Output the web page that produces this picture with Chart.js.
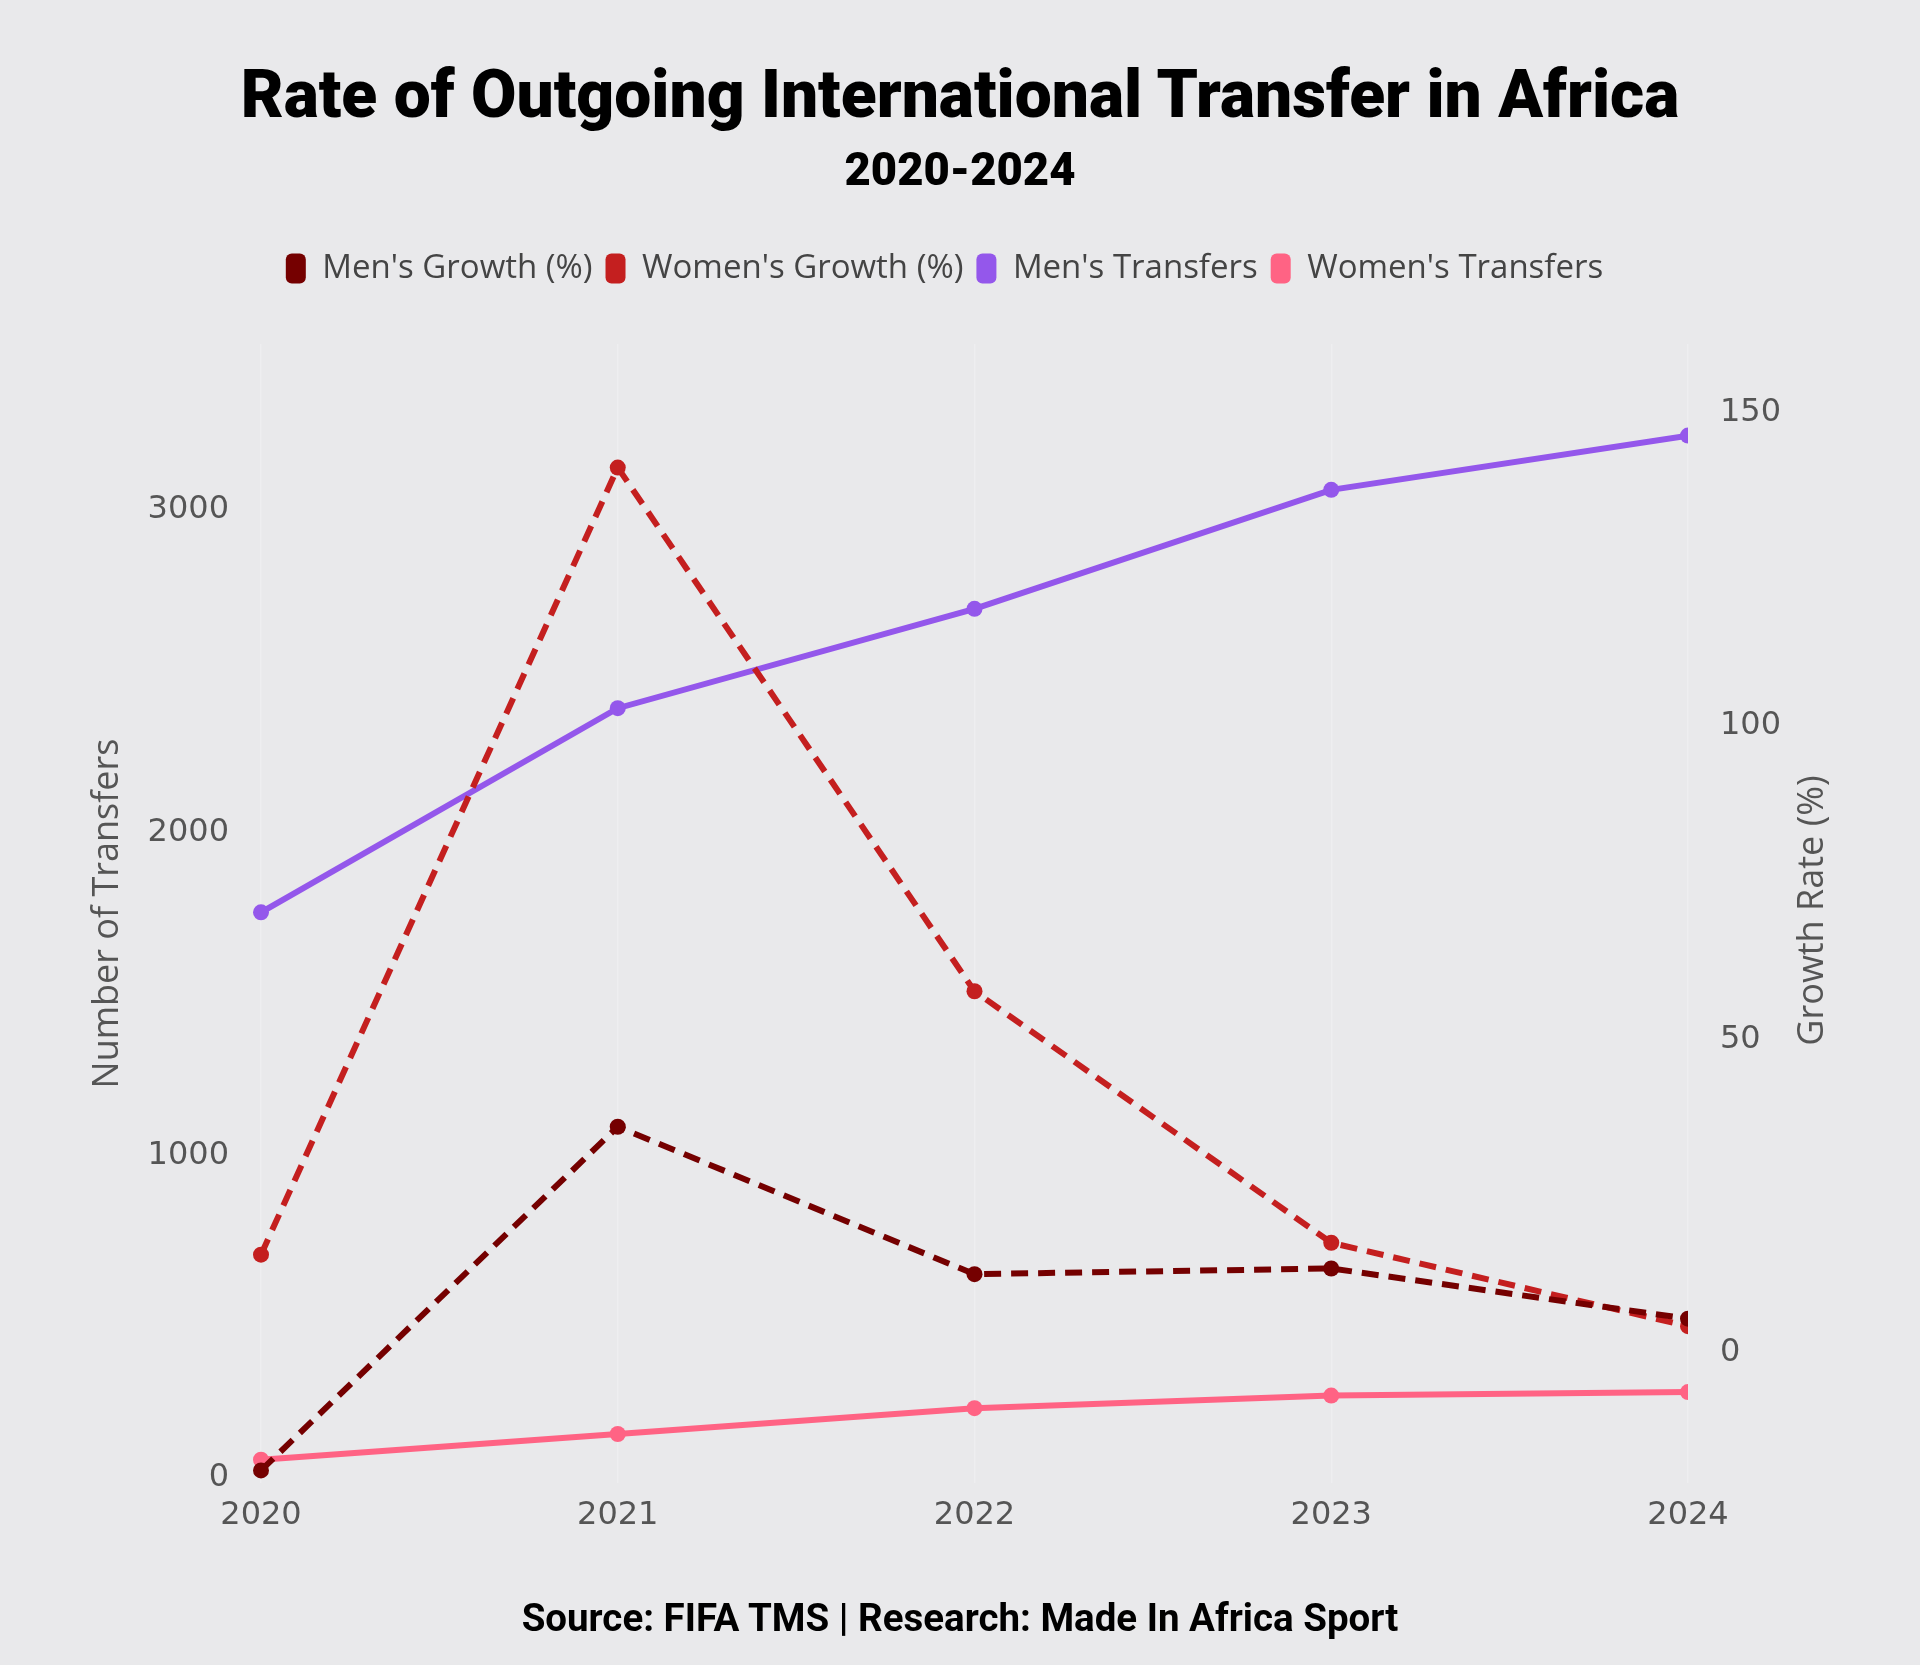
<!DOCTYPE html>
<html>
<head>
<meta charset="utf-8">
<script src="https://cdn.jsdelivr.net/npm/chart.js@4/dist/chart.umd.min.js"></script>
<style>
html,body{margin:0;padding:0;background:#e9e9eb;}
#wrap{position:relative;width:1920px;height:1665px;background:#e9e9eb;overflow:hidden;}
#chart{position:absolute;left:0;top:0;}
.txt{position:absolute;left:0;width:1920px;text-align:center;color:#000;white-space:nowrap;margin:0;}
</style>
</head>
<body>
<div id="wrap">
<canvas id="chart" width="1920" height="1665"></canvas>
<div id="title" class="txt">Rate of Outgoing International Transfer in Africa</div>
<div id="subtitle" class="txt">2020-2024</div>
<div id="source" class="txt">Source: FIFA TMS | Research: Made In Africa Sport</div>
</div>
<script>
// ---- Data ----
const years = ['2020', '2021', '2022', '2023', '2024'];
const mensGrowth = [-18.7, 36.1, 12.6, 13.5, 5.5];
const womensGrowth = [15.7, 141.2, 57.7, 17.6, 4.3];
const mensTransfers = [1753, 2386, 2694, 3063, 3231];
const womensTransfers = [56, 136, 216, 255, 266];
const transferTicks = [0, 1000, 2000, 3000];
const growthTicks = [0, 50, 100, 150];
const seriesNames = ["Men's Growth (%)", "Women's Growth (%)", "Men's Transfers", "Women's Transfers"];
const leftAxisTitle = 'Number of Transfers';
const rightAxisTitle = 'Growth Rate (%)';

// ---- Styling helpers ----
const BG = '#e9e9eb';
const measureCtx = document.createElement('canvas').getContext('2d');
function fitSize(text, family, weight, target) {
  measureCtx.font = `${weight} 100px ${family}`;
  return 100 * target / measureCtx.measureText(text).width;
}
function placeText(id, family, weight, targetW, centerY) {
  const el = document.getElementById(id);
  const size = fitSize(el.textContent, family, weight, targetW);
  measureCtx.font = `${weight} ${size}px ${family}`;
  const m = measureCtx.measureText(el.textContent);
  const fa = m.fontBoundingBoxAscent, fd = m.fontBoundingBoxDescent;
  const capH = measureCtx.measureText('H').actualBoundingBoxAscent;
  const baseline = (size - (fa + fd)) / 2 + fa;
  el.style.font = `${weight} ${size}px ${family}`;
  el.style.lineHeight = size + 'px';
  el.style.top = (centerY - (baseline - capH / 2)) + 'px';
}
const TITLE_FAMILY = 'Roboto, "Noto Sans", sans-serif';
placeText('title', TITLE_FAMILY, 900, 1441, 93);
placeText('subtitle', TITLE_FAMILY, 900, 231, 169);
placeText('source', TITLE_FAMILY, 700, 878, 1618);

const TICK_FAMILY = '"DejaVu Sans", sans-serif';
const LABEL_FAMILY = '"Open Sans", sans-serif';
const tickSize = 32;
const axisTitleSize = Math.round(fitSize(leftAxisTitle, LABEL_FAMILY, 400, 350));
const legendSize = Math.round(fitSize(seriesNames[0], LABEL_FAMILY, 400, 272));

// target geometry
const AREA_LEFT = 261, AREA_RIGHT = 1688, AREA_TOP = 344, AREA_BOTTOM = 1483;
const PAD_RIGHT = 31;
const LEGEND_CY = 268;

let legendExtra = 0;
const legendFitPlugin = {
  id: 'legendFit',
  beforeInit(chart) {
    const orig = chart.legend.fit;
    chart.legend.fit = function () {
      orig.call(this);
      this.height += legendExtra;
    };
  }
};
const rightTitlePlugin = {
  id: 'rightTitle',
  afterDraw(chart) {
    const {ctx, chartArea} = chart;
    ctx.save();
    ctx.font = `${axisTitleSize}px ${LABEL_FAMILY}`;
    ctx.fillStyle = '#555';
    ctx.textAlign = 'center';
    ctx.textBaseline = 'middle';
    ctx.translate(1813, (chartArea.top + chartArea.bottom) / 2 - 3);
    ctx.rotate(-Math.PI / 2);
    ctx.fillText(rightAxisTitle, 0, 0);
    ctx.restore();
  }
};
const bgPlugin = {
  id: 'bg',
  beforeDraw(chart) {
    const {ctx} = chart;
    ctx.save();
    ctx.fillStyle = BG;
    ctx.fillRect(0, 0, chart.width, chart.height);
    ctx.restore();
  }
};

const DASH = [17, 10];
function lineDs(label, data, color, axis, dashed) {
  return {
    label, data, yAxisID: axis,
    borderColor: color, backgroundColor: color,
    pointBackgroundColor: color, pointBorderWidth: 0,
    pointRadius: 8, pointHoverRadius: 8,
    borderWidth: 6, borderDash: dashed ? DASH : [],
    tension: 0, fill: false,
    clip: {left: false, top: false, right: 0, bottom: false}
  };
}
const plainTick = v => String(v);

const chart = new Chart(document.getElementById('chart'), {
  type: 'line',
  data: {
    labels: years,
    datasets: [
      lineDs(seriesNames[0], mensGrowth, '#750000', 'yR', true),
      lineDs(seriesNames[1], womensGrowth, '#C41F1F', 'yR', true),
      lineDs(seriesNames[2], mensTransfers, '#9457EB', 'yL', false),
      lineDs(seriesNames[3], womensTransfers, '#FF6384', 'yL', false)
    ]
  },
  options: {
    responsive: false,
    animation: false,
    devicePixelRatio: 1,
    events: [],
    layout: {padding: {top: 230, right: PAD_RIGHT, bottom: 0, left: 0}},
    plugins: {
      tooltip: {enabled: false},
      legend: {
        display: true,
        position: 'top',
        labels: {
          font: {family: LABEL_FAMILY, size: legendSize},
          color: '#444',
          boxWidth: 20,
          boxHeight: 30,
          padding: 13,
          useBorderRadius: true,
          borderRadius: 6,
          generateLabels(chart) {
            const items = Chart.defaults.plugins.legend.labels.generateLabels(chart);
            items.forEach(i => { i.lineWidth = 0; i.lineDash = []; i.strokeStyle = i.fillStyle; });
            return items;
          }
        }
      }
    },
    scales: {
      x: {
        type: 'category',
        offset: false,
        grid: {display: true, color: 'rgba(255,255,255,0.25)', lineWidth: 1.5, drawTicks: false},
        border: {display: false},
        ticks: {font: {family: TICK_FAMILY, size: tickSize}, color: '#555', padding: 13, maxRotation: 0, autoSkip: false},
        afterFit(s) { s.height = 1665 - AREA_BOTTOM; }
      },
      yL: {
        type: 'linear',
        position: 'left',
        min: -16,
        max: 3515,
        afterBuildTicks(s) { s.ticks = transferTicks.map(v => ({value: v})); },
        grid: {display: false},
        border: {display: false},
        ticks: {font: {family: TICK_FAMILY, size: tickSize}, color: '#555', padding: 24, callback: plainTick},
        title: {
          display: true, text: leftAxisTitle, color: '#555',
          font: {family: LABEL_FAMILY, size: axisTitleSize},
          padding: {top: 108 - axisTitleSize * 0.6, bottom: 0}
        },
        afterFit(s) { s.width = AREA_LEFT; }
      },
      yR: {
        type: 'linear',
        position: 'right',
        min: -20.7,
        max: 160.9,
        afterBuildTicks(s) { s.ticks = growthTicks.map(v => ({value: v})); },
        grid: {display: false},
        border: {display: false},
        ticks: {font: {family: TICK_FAMILY, size: tickSize}, color: '#555', padding: 24, callback: plainTick},
        afterFit(s) { s.width = 1920 - PAD_RIGHT - AREA_RIGHT; }
      }
    }
  },
  plugins: [legendFitPlugin, rightTitlePlugin, bgPlugin]
});

// align legend row and plot top with the reference layout
const hb = chart.legend.legendHitBoxes[0];
chart.options.layout.padding.top += Math.round(LEGEND_CY - (hb.top + hb.height / 2));
chart.update('none');
legendExtra += AREA_TOP - chart.chartArea.top;
chart.update('none');
</script>
</body>
</html>
